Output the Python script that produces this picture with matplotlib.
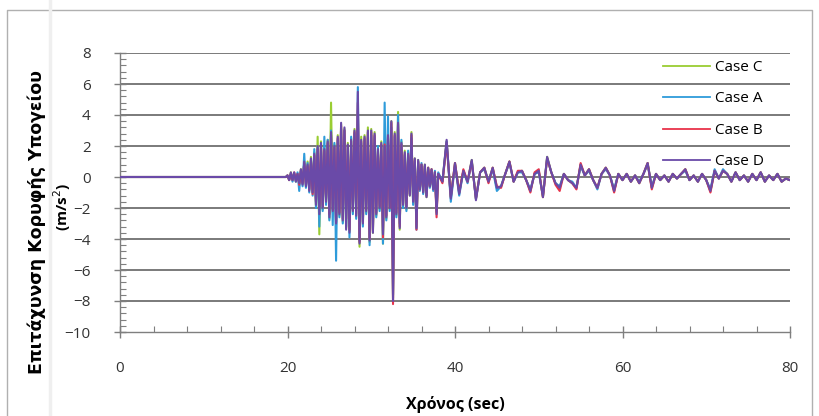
import numpy as np
import matplotlib
matplotlib.use("Agg")
import matplotlib.pyplot as plt
from matplotlib.ticker import MultipleLocator
from matplotlib.lines import Line2D

# ---------------- data ----------------
labels = ["Case C", "Case A", "Case B", "Case D"]
colors = ["#9ACD32", "#2E9BDA", "#E8334A", "#6A4AA8"]

time_pre = [0.0, 19.8]
time_strong = np.linspace(20.0, 38.0, 91)   # 0.2 s steps
time_tail = np.linspace(38.5, 80.0, 84)     # 0.5 s steps
pre_vals = [0.0, 0.0]

caseC_strong = [
    0.1, -0.2, 0.3, -0.2, 0.2, -0.3, 0.2, -0.4, 0.5, -0.4,
    0.9, -0.6, 1.0, -0.8, 1.3, -1.0, 1.6, -1.9, 2.6, -3.7,
    2.3, -2.1, 1.9, -1.7, 2.4, -2.7, 4.8, -2.3, 2.1, -3.1,
    2.7, -2.5, 3.4, -2.9, 3.1, -3.3, 2.2, -3.5, 2.5, -2.3,
    3.1, -2.6, 4.3, -4.5, 2.6, -3.1, 2.7, -2.3, 3.2, -4.2,
    3.1, -3.6, 2.9, -2.5, 1.9, -2.1, 2.3, -4.3, 2.1, -2.7,
    2.8, -2.1, 3.6, -7.8, 2.9, -2.5, 4.2, -3.4, 2.3, -1.9,
    1.7, -2.1, 1.6, -1.2, 2.9, -1.7, 1.2, -3.2, 1.1, -0.8,
    0.8, -1.0, 0.8, -1.3, 0.6, -0.6, 0.5, -0.8, 0.3, -2.3,
    0.2]
caseC_tail = [
    -0.3, 2.3, -1.3, 0.9, -1.0, 0.4, -0.3, 1.1, -1.4, 0.3,
    0.6, -0.3, 0.6, -0.7, -0.6, 0.2, 1.0, -0.3, 0.3, 0.4,
    -0.2, -0.9, 0.2, 0.4, -1.3, 1.3, 0.3, -0.4, -0.7, 0.2,
    -0.2, -0.4, -0.7, 0.8, 0.1, 0.5, -0.2, -0.7, 0.2, 0.6,
    0.1, -0.9, 0.2, -0.2, 0.2, -0.3, 0.1, -0.4, 0.2, 0.9,
    -0.7, 0.2, -0.2, 0.1, -0.3, 0.2, -0.1, 0.2, 0.5, -0.2,
    0.1, -0.3, 0.2, -0.2, -0.9, 0.4, -0.1, 0.4, 0.2, -0.3,
    0.3, -0.2, 0.1, -0.3, 0.2, -0.2, 0.3, -0.3, 0.1, -0.2,
    0.2, -0.3, -0.1, -0.2]

caseA_strong = [
    0.1, -0.2, 0.2, -0.3, 0.2, -0.3, 0.3, -0.9, 0.4, -0.6,
    1.5, -0.7, 0.9, -1.0, 1.0, -1.2, 1.8, -2.0, 1.9, -3.2,
    2.0, -2.2, 2.6, -1.8, 2.4, -2.8, 3.0, -3.1, 2.2, -5.4,
    2.4, -2.6, 3.1, -3.0, 3.0, -3.2, 2.0, -3.9, 2.6, -2.4,
    2.8, -2.7, 5.8, -4.1, 2.2, -3.2, 2.4, -2.4, 2.6, -4.4,
    2.7, -3.4, 2.6, -2.6, 2.0, -2.2, 2.0, -4.3, 4.8, -2.8,
    3.9, -2.2, 3.2, -7.6, 2.6, -2.6, 4.0, -3.0, 2.4, -2.0,
    1.4, -2.2, 1.7, -1.1, 2.5, -1.8, 1.0, -3.4, 1.0, -0.9,
    0.9, -1.1, 0.7, -1.2, 0.5, -0.7, 0.4, -0.9, 0.4, -2.2,
    0.3]
caseA_tail = [
    -0.3, 2.3, -1.6, 0.8, -1.2, 0.4, -0.4, 1.0, -1.4, 0.3,
    0.5, -0.3, 0.5, -0.9, -0.6, 0.2, 0.9, -0.3, 0.3, 0.3,
    -0.2, -0.8, 0.2, 0.3, -1.2, 1.2, 0.3, -0.4, -0.6, 0.2,
    -0.2, -0.3, -0.7, 0.7, 0.1, 0.4, -0.2, -0.8, 0.2, 0.5,
    0.1, -0.8, 0.2, -0.2, 0.2, -0.3, 0.1, -0.3, 0.2, 0.8,
    -0.6, 0.2, -0.2, 0.1, -0.3, 0.2, -0.1, 0.2, 0.4, -0.2,
    0.1, -0.3, 0.2, -0.2, -0.8, 0.5, -0.1, 0.5, 0.2, -0.3,
    0.3, -0.2, 0.1, -0.3, 0.2, -0.2, 0.3, -0.3, 0.1, -0.2,
    0.2, -0.3, -0.1, -0.2]

caseB_strong = [
    0.1, -0.2, 0.2, -0.2, 0.3, -0.2, 0.2, -0.5, 0.4, -0.4,
    0.9, -0.5, 0.7, -0.8, 1.1, -1.1, 1.4, -1.6, 1.8, -2.0,
    2.1, -1.9, 1.7, -1.5, 2.2, -2.4, 2.7, -2.1, 1.9, -2.9,
    2.5, -2.3, 3.3, -2.7, 3.0, -2.7, 2.0, -3.4, 2.3, -2.1,
    2.9, -2.4, 4.8, -4.2, 2.3, -2.9, 2.5, -2.1, 2.9, -4.0,
    2.9, -3.5, 2.7, -2.3, 1.7, -1.9, 2.1, -3.9, 2.1, -2.5,
    2.6, -2.0, 3.5, -8.2, 2.7, -2.3, 3.4, -3.2, 2.1, -1.7,
    1.5, -1.9, 1.4, -1.1, 2.7, -1.5, 1.1, -3.4, 1.0, -0.8,
    0.8, -0.9, 0.7, -1.2, 0.6, -0.6, 0.5, -0.7, 0.3, -2.6,
    0.2]
caseB_tail = [
    -0.4, 2.2, -1.3, 0.9, -1.0, 0.5, -0.3, 1.0, -1.4, 0.3,
    0.6, -0.4, 0.6, -0.6, -0.7, 0.2, 1.0, -0.3, 0.4, 0.4,
    -0.2, -1.0, 0.3, 0.5, -1.3, 1.2, 0.3, -0.5, -0.9, 0.2,
    -0.2, -0.4, -0.8, 0.9, 0.1, 0.5, -0.2, -0.7, 0.2, 0.6,
    0.1, -1.0, 0.2, -0.2, 0.2, -0.3, 0.1, -0.4, 0.2, 0.9,
    -0.8, 0.2, -0.2, 0.1, -0.3, 0.2, -0.1, 0.2, 0.5, -0.2,
    0.1, -0.3, 0.2, -0.2, -1.0, 0.4, -0.1, 0.4, 0.2, -0.3,
    0.3, -0.2, 0.1, -0.3, 0.2, -0.2, 0.3, -0.3, 0.1, -0.2,
    0.2, -0.3, -0.1, -0.2]

caseD_strong = [
    0.1, -0.2, 0.3, -0.2, 0.3, -0.3, 0.2, -0.4, 0.5, -0.5,
    1.0, -0.6, 0.8, -0.9, 1.2, -1.0, 1.5, -1.8, 2.0, -2.4,
    2.2, -2.0, 1.8, -1.6, 2.3, -2.6, 2.9, -2.2, 2.0, -3.0,
    2.6, -2.4, 3.5, -2.8, 3.2, -3.4, 2.1, -3.6, 2.4, -2.2,
    3.0, -2.5, 5.5, -4.3, 2.4, -3.0, 2.6, -2.2, 3.0, -4.1,
    3.0, -3.6, 2.8, -2.4, 1.8, -2.0, 2.2, -3.7, 2.0, -2.6,
    2.7, -2.0, 3.6, -8.0, 2.8, -2.4, 3.5, -3.3, 2.2, -1.8,
    1.6, -2.0, 1.5, -1.2, 2.8, -1.6, 1.2, -3.3, 1.1, -0.8,
    0.8, -1.0, 0.8, -1.3, 0.6, -0.6, 0.5, -0.8, 0.3, -2.4,
    0.2]
caseD_tail = [
    -0.3, 2.4, -1.4, 0.9, -1.1, 0.4, -0.3, 1.1, -1.5, 0.3,
    0.6, -0.3, 0.6, -0.7, -0.6, 0.2, 1.0, -0.3, 0.3, 0.4,
    -0.2, -0.9, 0.2, 0.4, -1.3, 1.3, 0.3, -0.4, -0.7, 0.2,
    -0.2, -0.4, -0.7, 0.8, 0.1, 0.5, -0.2, -0.7, 0.2, 0.6,
    0.1, -0.9, 0.2, -0.2, 0.2, -0.3, 0.1, -0.4, 0.2, 0.9,
    -0.7, 0.2, -0.2, 0.1, -0.3, 0.2, -0.1, 0.2, 0.5, -0.2,
    0.1, -0.3, 0.2, -0.2, -0.9, 0.4, -0.1, 0.4, 0.2, -0.3,
    0.3, -0.2, 0.1, -0.3, 0.2, -0.2, 0.3, -0.3, 0.1, -0.2,
    0.2, -0.3, -0.1, -0.2]

x_ticks = [0, 20, 40, 60, 80]
y_ticks = list(range(-10, 9, 2))
x_label = "Χρόνος (sec)"
y_label1 = "Επιτάχυνση Κορυφής Υπογείου"
y_label2 = "(m/s$^2$)"

# ---------------- plot ----------------
plt.rcParams["font.family"] = ["Open Sans", "DejaVu Sans"]

time = np.concatenate([time_pre, time_strong, time_tail])
series = [
    pre_vals + caseC_strong + caseC_tail,
    pre_vals + caseA_strong + caseA_tail,
    pre_vals + caseB_strong + caseB_tail,
    pre_vals + caseD_strong + caseD_tail,
]

W, H = 819, 416
fig = plt.figure(figsize=(W / 100, H / 100), dpi=100)
ax = fig.add_axes([120 / W, 1 - 332 / H, 670 / W, 279 / H])

for vals, lab, col in zip(series, labels, colors):
    ax.plot(time, vals, color=col, lw=1.5, label=lab, zorder=3)

ax.set_xlim(0, 80)
ax.set_ylim(-10, 8)
ax.set_xticks(x_ticks)
ax.set_yticks(y_ticks)
ax.xaxis.set_minor_locator(MultipleLocator(4))
ax.yaxis.set_minor_locator(MultipleLocator(0.4))

grey = "#7F7F7F"
for yv in y_ticks[1:]:
    ax.axhline(yv, color="#707070", lw=1.3, zorder=1)

for s in ["top", "right"]:
    ax.spines[s].set_visible(False)
for s in ["left", "bottom"]:
    ax.spines[s].set_color(grey)
    ax.spines[s].set_linewidth(1.0)

ax.tick_params(which="major", direction="inout", length=8, width=1,
               color=grey, labelsize=11, labelcolor="#333333")
ax.tick_params(axis="y", which="major", pad=17)
ax.tick_params(axis="x", which="major", pad=17)
ax.tick_params(which="minor", direction="in", length=4, width=0.8, color=grey)

ax.set_xlabel(x_label, fontsize=11.5, fontweight="bold", labelpad=14)
fig.text(37 / W, 1 - 222 / H, y_label1, rotation=90, ha="center", va="center",
         fontsize=12.5, fontweight="bold", family=["DejaVu Sans"])
fig.text(62 / W, 1 - 207 / H, y_label2, rotation=90, ha="center", va="center",
         fontsize=11, fontweight="bold")

leg = ax.legend(loc="upper left", bbox_to_anchor=(0.81, 0.975), frameon=False,
                fontsize=11, handlelength=3.1, handletextpad=0.3,
                labelspacing=1.08, borderpad=0, borderaxespad=0)
for h in leg.get_lines():
    h.set_linewidth(1.3)

# outer chart border and faint scan line
fig.add_artist(Line2D([7 / W, 7 / W, 812 / W, 812 / W], [0, 1 - 10 / H, 1 - 10 / H, 0],
                      transform=fig.transFigure, color="#B0B0B0", lw=1.0))
fig.add_artist(Line2D([50 / W, 50 / W], [0, 1], transform=fig.transFigure,
                      color="#EFEFEF", lw=2.5))

fig.savefig("out.png", dpi=100)
